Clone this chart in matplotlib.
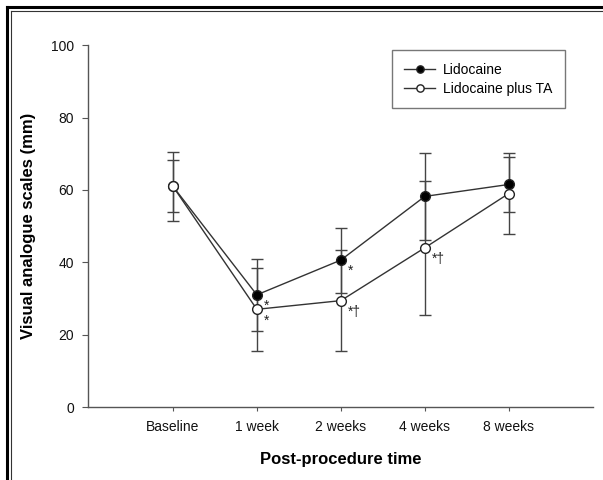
import matplotlib
matplotlib.use("Agg")
import matplotlib.pyplot as plt
from matplotlib.lines import Line2D

plt.rcParams['font.family'] = ['Liberation Sans', 'DejaVu Sans']

categories = ["Baseline", "1 week", "2 weeks", "4 weeks", "8 weeks"]
lido = [61.0, 31.0, 40.6, 58.2, 61.5]
lido_err = [7.2, 9.9, 9.0, 12.1, 7.6]
lido_ta = [61.0, 27.0, 29.4, 44.0, 59.0]
lido_ta_err = [9.5, 11.4, 14.0, 18.5, 11.2]
lido_marks = ["", "*", "*", "", ""]
lido_ta_marks = ["", "*", "*\u2020", "*\u2020", ""]

fig = plt.figure(figsize=(6.03, 4.8), dpi=100)
ax = fig.add_axes([0.146, 0.152, 0.837, 0.754])

x = list(range(len(categories)))
lc = '#333333'
ax.errorbar(x, lido, yerr=lido_err, fmt='none', ecolor='#444444',
            elinewidth=1.0, capsize=4, capthick=1.0, zorder=2)
ax.errorbar(x, lido_ta, yerr=lido_ta_err, fmt='none', ecolor='#444444',
            elinewidth=1.0, capsize=4, capthick=1.0, zorder=2)
ax.plot(x, lido, color=lc, lw=1.0, marker='o', ms=7,
        mfc='black', mec='#222222', label='Lidocaine', zorder=3)
ax.plot(x, lido_ta, color=lc, lw=1.0, marker='o', ms=7,
        mfc='white', mec='#222222', label='Lidocaine plus TA', zorder=4)

for xi, yi, m in zip(x, lido, lido_marks):
    if m:
        ax.annotate(m, (xi, yi), xytext=(5, -8), textcoords='offset points',
                    fontsize=10, color='#222222', ha='left', va='center')
for xi, yi, m in zip(x, lido_ta, lido_ta_marks):
    if m:
        ax.annotate(m, (xi, yi), xytext=(5, -8), textcoords='offset points',
                    fontsize=10, color='#222222', ha='left', va='center')

ax.set_xlim(-1.01, 5.0)
ax.set_ylim(0, 100)
ax.set_yticks([0, 20, 40, 60, 80, 100])
ax.set_xticks(x)
ax.set_xticklabels(categories)
for s in ['top', 'right']:
    ax.spines[s].set_visible(False)
for s in ['left', 'bottom']:
    ax.spines[s].set_color('#555555')
    ax.spines[s].set_linewidth(1.0)
ax.tick_params(axis='both', colors='#555555', labelcolor='#111111', labelsize=10)
ax.tick_params(axis='y', length=4, pad=6)
ax.tick_params(axis='x', length=3, pad=6)
ax.set_ylabel('Visual analogue scales (mm)', fontsize=12, fontweight='bold', labelpad=11)
ax.set_xlabel('Post-procedure time', fontsize=12, fontweight='bold', labelpad=13)

leg = ax.legend(loc='upper right', bbox_to_anchor=(0.945, 0.986), borderaxespad=0,
                fontsize=10, frameon=True, fancybox=False, edgecolor='#555555',
                handlelength=2.2, borderpad=0.9, labelspacing=0.35,
                markerscale=0.75, handletextpad=0.6)
leg.get_frame().set_linewidth(1.0)

# double border (top and left)
W, H = 603, 480
fig.add_artist(Line2D([6.5 / W, 1], [1 - 6.5 / H, 1 - 6.5 / H], transform=fig.transFigure, color='black', lw=2.2))
fig.add_artist(Line2D([6.5 / W, 6.5 / W], [0, 1 - 6.5 / H], transform=fig.transFigure, color='black', lw=2.2))
fig.add_artist(Line2D([11 / W, 1], [1 - 11 / H, 1 - 11 / H], transform=fig.transFigure, color='#333333', lw=0.8))
fig.add_artist(Line2D([11 / W, 11 / W], [0, 1 - 11 / H], transform=fig.transFigure, color='#333333', lw=0.8))

fig.savefig('out.png', dpi=100)
